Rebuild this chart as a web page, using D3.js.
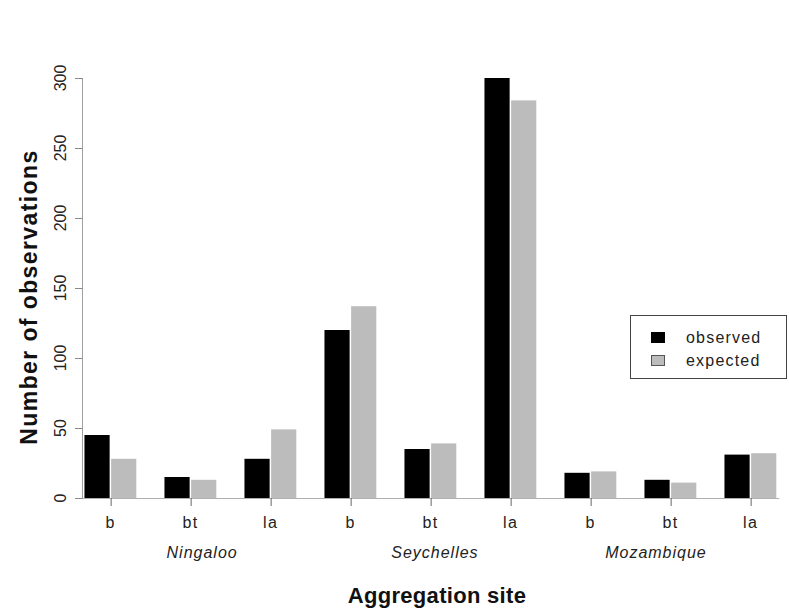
<!DOCTYPE html>
<html>
<head>
<meta charset="utf-8">
<script src="https://cdn.jsdelivr.net/npm/d3@7"></script>
<style>
  html, body { margin: 0; padding: 0; background: #fff; }
  text { font-family: "Liberation Sans", Arial, Helvetica, sans-serif; }
</style>
</head>
<body>
<svg id="chart" width="789" height="614"></svg>
<script>
// ---- data ----
const sites = ["Ningaloo", "Seychelles", "Mozambique"];
const types = ["b", "bt", "la"];
const observed = [45, 15, 28, 120, 35, 300, 18, 13, 31];
const expected = [28, 13, 49, 137, 39, 284, 19, 11, 32];
const yTicks = [0, 50, 100, 150, 200, 250, 300];
const seriesNames = ["observed", "expected"];

// ---- layout ----
const colors = ["#000000", "#bcbcbc"];
const siteLabelUnits = [5.43, 14.16, 22.45]; // label anchor positions in bar units

const svg = d3.select("#chart");

const nGroups = observed.length;
const x = d3.scaleLinear().domain([0, nGroups * 3]).range([57.3, 777.3]);
const y = d3.scaleLinear().domain([0, 300]).range([498, 78]);

const groups = d3.range(nGroups).map(g => ({
  g,
  type: types[g % 3],
  values: [observed[g], expected[g]]
}));

// bars
const bars = [];
groups.forEach(d => {
  d.values.forEach((v, s) => bars.push({ g: d.g, s, v }));
});
svg.append("g").selectAll("rect").data(bars).join("rect")
  .attr("x", d => x(3 * d.g + 1 + d.s) + 0.5)
  .attr("width", d => x(3 * d.g + 2 + d.s) - x(3 * d.g + 1 + d.s) - 1.5)
  .attr("y", d => y(d.v))
  .attr("height", d => y(0) - y(d.v))
  .attr("fill", d => colors[d.s]);

// x baseline
svg.append("line")
  .attr("x1", x(0) + 19).attr("x2", x(nGroups * 3) + 2)
  .attr("y1", y(0) + 0.5).attr("y2", y(0) + 0.5)
  .attr("stroke", "#b0b0b0").attr("stroke-width", 1);

// y axis
const yAxis = svg.append("g");
yAxis.append("line")
  .attr("x1", 82.5).attr("x2", 82.5)
  .attr("y1", y(300)).attr("y2", y(0))
  .attr("stroke", "#a0a0a0");
yAxis.selectAll("line.tick").data(yTicks).join("line")
  .attr("class", "tick")
  .attr("x1", 75).attr("x2", 82.5)
  .attr("y1", d => y(d) + 0.5).attr("y2", d => y(d) + 0.5)
  .attr("stroke", "#888");
yAxis.selectAll("text").data(yTicks).join("text")
  .attr("transform", d => `translate(66,${y(d)}) rotate(-90)`)
  .attr("text-anchor", "middle")
  .attr("font-size", 16)
  .attr("fill", "#222")
  .text(d => d);

// x ticks
const xAxis = svg.append("g");
xAxis.selectAll("line").data(groups).join("line")
  .attr("x1", d => x(3 * d.g + 2) + 0.5).attr("x2", d => x(3 * d.g + 2) + 0.5)
  .attr("y1", y(0)).attr("y2", y(0) + 8)
  .attr("stroke", "#666");
xAxis.selectAll("text").data(groups).join("text")
  .attr("x", d => x(3 * d.g + 2))
  .attr("y", 528)
  .attr("text-anchor", "middle")
  .attr("font-size", 16)
  .attr("letter-spacing", 1.5)
  .attr("fill", "#222")
  .text(d => d.type);

// site labels
svg.append("g").selectAll("text").data(sites).join("text")
  .attr("x", (d, i) => x(siteLabelUnits[i]))
  .attr("y", 558)
  .attr("text-anchor", "middle")
  .attr("font-size", 16)
  .attr("font-style", "italic")
  .attr("letter-spacing", 1)
  .attr("fill", "#222")
  .text(d => d);

// axis titles
svg.append("text")
  .attr("x", 437).attr("y", 603)
  .attr("text-anchor", "middle")
  .attr("font-size", 22)
  .attr("font-weight", "bold")
  .attr("letter-spacing", 0.3)
  .attr("fill", "#111")
  .text("Aggregation site");

svg.append("text")
  .attr("transform", "translate(37,297) rotate(-90)")
  .attr("text-anchor", "middle")
  .attr("font-size", 23)
  .attr("font-weight", "bold")
  .attr("letter-spacing", 1.4)
  .attr("fill", "#111")
  .text("Number of observations");

// legend
const lg = svg.append("g");
lg.append("rect")
  .attr("x", 630.5).attr("y", 315.5)
  .attr("width", 156).attr("height", 63)
  .attr("fill", "#fff").attr("stroke", "#444");
const items = lg.selectAll("g.item").data(seriesNames).join("g").attr("class", "item")
  .attr("transform", (d, i) => `translate(0,${i * 23})`);
items.append("rect")
  .attr("x", 651.5).attr("y", 332.5)
  .attr("width", 13).attr("height", 10)
  .attr("fill", (d, i) => colors[i])
  .attr("stroke", (d, i) => i === 0 ? "#000" : "#555");
items.append("text")
  .attr("x", 686).attr("y", 343)
  .attr("font-size", 16)
  .attr("letter-spacing", 1.2)
  .attr("fill", "#222")
  .text(d => d);
</script>
</body>
</html>
